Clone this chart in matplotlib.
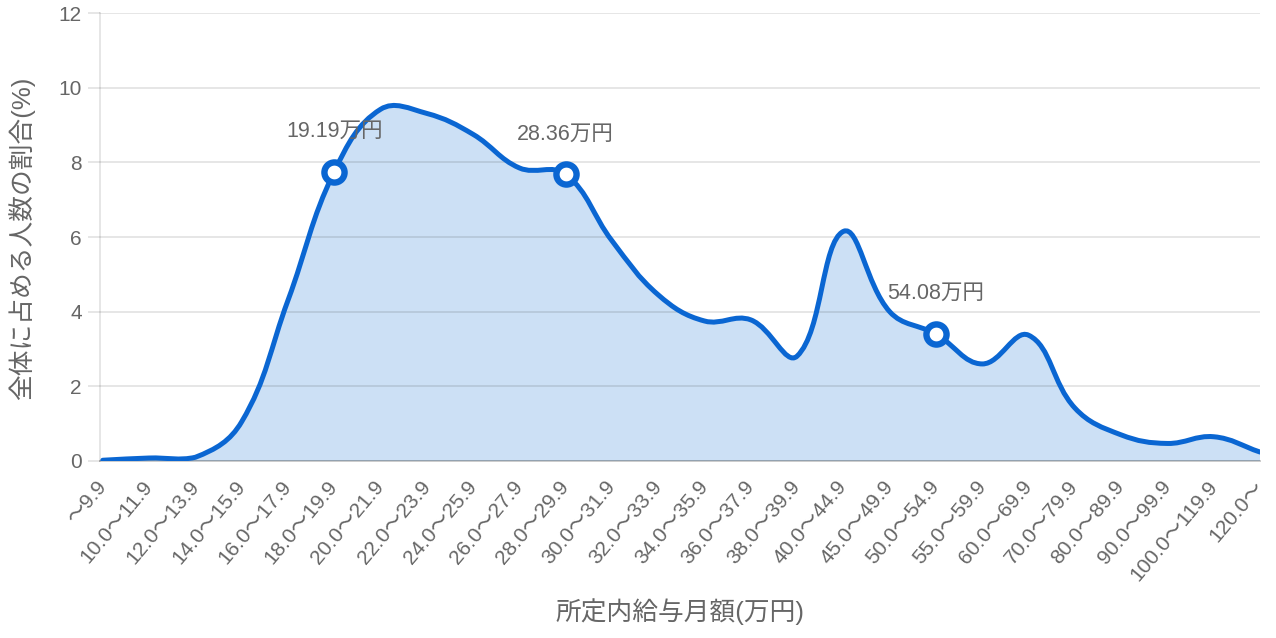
import numpy as np
import matplotlib
matplotlib.use("Agg")
import matplotlib.pyplot as plt
from matplotlib.path import Path
from matplotlib.patches import PathPatch

# --- データ ---
labels = ["〜9.9", "10.0〜11.9", "12.0〜13.9", "14.0〜15.9", "16.0〜17.9",
          "18.0〜19.9", "20.0〜21.9", "22.0〜23.9", "24.0〜25.9", "26.0〜27.9",
          "28.0〜29.9", "30.0〜31.9", "32.0〜33.9", "34.0〜35.9", "36.0〜37.9",
          "38.0〜39.9", "40.0〜44.9", "45.0〜49.9", "50.0〜54.9", "55.0〜59.9",
          "60.0〜69.9", "70.0〜79.9", "80.0〜89.9", "90.0〜99.9", "100.0〜119.9",
          "120.0〜"]
ratio = [0.02, 0.08, 0.10, 1.05, 4.30, 7.75, 9.42, 9.31, 8.75, 7.85,
         7.68, 5.90, 4.45, 3.75, 3.78, 2.81, 6.15, 4.00, 3.40, 2.60,
         3.37, 1.42, 0.70, 0.47, 0.65, 0.24]

# 注目ポイント (インデックス, ラベル)
marks = [5, 10, 18]
mark_text = ["19.19万円", "28.36万円", "54.08万円"]

line_col = "#0a66d2"
fill_col = "#cce0f5"
txt_col = "#666666"

plt.rcParams["font.family"] = ["Liberation Sans", "Noto Sans CJK JP"]

fig = plt.figure(figsize=(12.76, 6.38), dpi=100)
ax = fig.add_axes([100 / 1276, 1 - 461 / 638, 1160 / 1276, 448 / 638])

x = np.arange(len(ratio))
y = np.array(ratio)
ax.set_xlim(-0.06, len(ratio) - 1)
ax.set_ylim(0, 12)

# Chart.js風のスプライン (tension 0.4) をピクセル比率で計算
sx, sy = 46.28, 37.33
px, py = x * sx, y * sy
n = len(x)
cp_prev = np.zeros((n, 2))
cp_next = np.zeros((n, 2))
for i in range(n):
    p0 = (px[max(i - 1, 0)], py[max(i - 1, 0)])
    p1 = (px[i], py[i])
    p2 = (px[min(i + 1, n - 1)], py[min(i + 1, n - 1)])
    d01 = np.hypot(p1[0] - p0[0], p1[1] - p0[1])
    d12 = np.hypot(p2[0] - p1[0], p2[1] - p1[1])
    s01 = d01 / (d01 + d12) if d01 + d12 else 0
    s12 = d12 / (d01 + d12) if d01 + d12 else 0
    fa, fb = 0.4 * s01, 0.4 * s12
    cp_prev[i] = (p1[0] - fa * (p2[0] - p0[0]), p1[1] - fa * (p2[1] - p0[1]))
    cp_next[i] = (p1[0] + fb * (p2[0] - p0[0]), p1[1] + fb * (p2[1] - p0[1]))
cp_prev[:, 1] = np.clip(cp_prev[:, 1], 0, 12 * sy)
cp_next[:, 1] = np.clip(cp_next[:, 1], 0, 12 * sy)

verts = [(x[0], y[0])]
codes = [Path.MOVETO]
for i in range(n - 1):
    verts += [(cp_next[i, 0] / sx, cp_next[i, 1] / sy),
              (cp_prev[i + 1, 0] / sx, cp_prev[i + 1, 1] / sy),
              (x[i + 1], y[i + 1])]
    codes += [Path.CURVE4] * 3

fill_verts = [(x[0], 0)] + verts + [(x[-1], 0), (x[0], 0)]
fill_codes = [Path.MOVETO, Path.LINETO] + codes[1:] + [Path.LINETO, Path.CLOSEPOLY]
ax.add_patch(PathPatch(Path(fill_verts, fill_codes), facecolor=fill_col,
                       edgecolor="none", zorder=1))
ax.add_patch(PathPatch(Path(verts, codes), facecolor="none", edgecolor=line_col,
                       lw=3.6, capstyle="round", joinstyle="round", zorder=3))

# マーカーと注釈
ax.plot(x[marks], y[marks], "o", ms=14.5, mfc="white", mec=line_col, mew=4.6,
        zorder=4, clip_on=False)
for i, t in zip(marks, mark_text):
    ax.annotate(t, (x[i], y[i]), xytext=(0, 29), textcoords="offset points",
                ha="center", va="center", fontsize=15.5, color=txt_col)

# 軸とグリッド
ax.set_yticks(range(0, 13, 2))
ax.yaxis.grid(True, color="black", alpha=0.1, lw=1.4, zorder=2)
ax.set_axisbelow("line")
for s in ["top", "right"]:
    ax.spines[s].set_visible(False)
ax.spines["left"].set_color((0, 0, 0, 0.1))
ax.spines["left"].set_linewidth(1.4)
ax.spines["bottom"].set_color((0, 0, 0, 0.2))
ax.spines["bottom"].set_linewidth(1.4)
ax.tick_params(axis="y", length=9, width=1.4, color=(0, 0, 0, 0.1),
               labelsize=15, labelcolor=txt_col, pad=4)
ax.set_xticks(x)
ax.set_xticklabels(labels, rotation=50, ha="right", va="center",
                   rotation_mode="anchor", fontsize=15, color=txt_col)
ax.tick_params(axis="x", length=0, pad=16)

fig.text(22 / 1276, 1 - 238 / 638, "全体に占める人数の割合(%)", rotation=90,
         ha="center", va="center", fontsize=18.5, color=txt_col)
fig.text(680 / 1276, 1 - 612 / 638, "所定内給与月額(万円)", ha="center",
         va="center", fontsize=18.5, color=txt_col)

fig.savefig("out.png", dpi=100)
